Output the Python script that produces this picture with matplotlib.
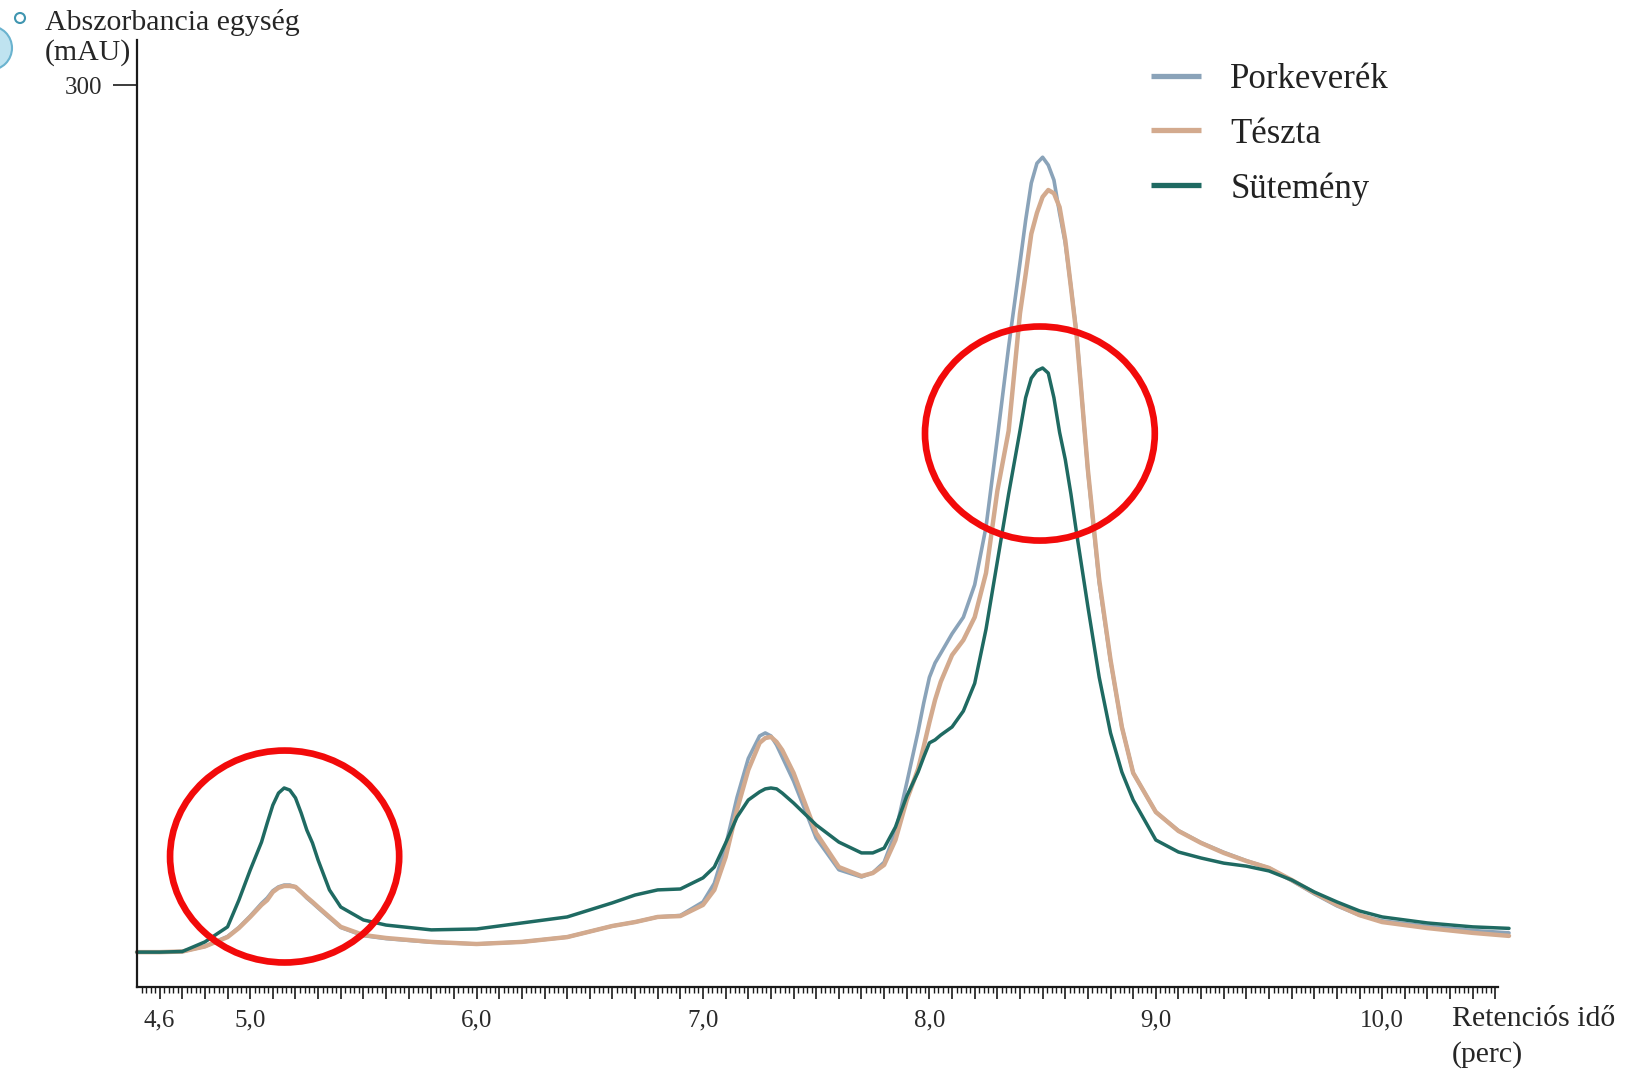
import numpy as np
import matplotlib
matplotlib.use("Agg")
import matplotlib.pyplot as plt
from matplotlib.patches import Ellipse

plt.rcParams['font.family'] = ['Liberation Serif', 'DejaVu Serif']

# ---------------- data (retention time in min, absorbance in mAU) ----------------
time = [4.50, 4.60, 4.70, 4.80, 4.90, 4.95, 5.00, 5.05, 5.075, 5.10,
        5.125, 5.15, 5.175, 5.20, 5.225, 5.25, 5.275, 5.30, 5.35, 5.40,
        5.50, 5.60, 5.80, 6.00, 6.20, 6.40, 6.60, 6.70, 6.80, 6.90,
        7.00, 7.05, 7.10, 7.15, 7.20, 7.25, 7.275, 7.30, 7.325, 7.35,
        7.40, 7.50, 7.60, 7.70, 7.75, 7.80, 7.85, 7.90, 7.95, 7.975,
        8.00, 8.025, 8.05, 8.10, 8.15, 8.20, 8.25, 8.30, 8.35, 8.40,
        8.425, 8.45, 8.475, 8.50, 8.525, 8.55, 8.575, 8.60, 8.625, 8.65,
        8.70, 8.75, 8.80, 8.85, 8.90, 9.00, 9.10, 9.20, 9.30, 9.40,
        9.50, 9.60, 9.70, 9.80, 9.90, 10.00, 10.20, 10.40, 10.56]

porkeverek = [11.6, 11.6, 11.8, 13.5, 16.8, 19.8, 23.6, 27.8, 29.6, 32.0,
              33.3, 33.9, 33.9, 33.3, 31.6, 29.6, 28.0, 26.3, 23.0, 19.8,
              17.1, 16.1, 14.9, 14.3, 15.0, 16.6, 20.3, 21.6, 23.3, 23.8,
              28.3, 34.5, 47.0, 63.0, 76.0, 83.5, 84.5, 83.5, 80.5, 76.5,
              68.5, 49.5, 39.0, 36.6, 38.0, 41.5, 51.5, 67.9, 85.0, 94.5,
              103.0, 107.8, 111.0, 117.5, 123.0, 133.8, 153.0, 182.5, 213.0, 240.8,
              255.0, 267.4, 274.0, 276.0, 273.4, 268.4, 257.4, 247.5, 233.0, 217.5,
              171.5, 134.5, 108.5, 86.5, 71.2, 58.2, 52.0, 48.0, 44.8, 42.0,
              39.6, 35.4, 31.0, 27.0, 23.9, 22.0, 20.2, 18.8, 18.0]

teszta = [11.6, 11.6, 11.8, 13.5, 16.6, 19.6, 23.3, 27.3, 28.9, 31.6,
          33.0, 33.6, 33.6, 33.3, 31.6, 29.9, 28.3, 26.6, 23.3, 20.0,
          17.3, 16.3, 15.0, 14.3, 15.0, 16.6, 20.3, 21.6, 23.3, 23.6,
          27.3, 32.3, 43.2, 58.9, 72.2, 81.2, 82.8, 83.2, 81.5, 78.8,
          71.2, 51.2, 39.9, 36.9, 37.9, 40.6, 48.9, 62.2, 72.5, 80.0,
          88.0, 95.5, 101.5, 110.4, 115.4, 123.0, 137.7, 165.0, 185.0, 224.0,
          237.0, 250.5, 257.5, 262.8, 265.1, 264.0, 259.4, 248.5, 232.8, 216.8,
          172.0, 135.4, 108.8, 86.5, 71.2, 58.2, 51.9, 47.9, 44.6, 41.9,
          39.6, 35.6, 31.3, 27.3, 23.9, 21.6, 19.6, 18.0, 17.0]

sutemeny = [11.6, 11.6, 11.8, 15.0, 20.0, 28.9, 38.9, 48.2, 54.5, 60.5,
            64.5, 66.2, 65.5, 62.9, 57.9, 52.2, 47.9, 42.2, 32.3, 26.6,
            22.3, 20.6, 19.0, 19.3, 21.3, 23.3, 28.0, 30.6, 32.3, 32.6,
            36.3, 39.9, 47.9, 56.5, 62.2, 64.9, 65.9, 66.2, 65.9, 64.5,
            61.2, 53.9, 48.2, 44.6, 44.6, 46.2, 53.2, 63.5, 71.5, 76.5,
            81.2, 82.2, 83.8, 86.5, 91.8, 101.0, 119.0, 141.5, 164.0, 185.0,
            196.0, 202.5, 205.0, 205.9, 204.2, 196.0, 184.5, 175.5, 164.0, 151.0,
            126.5, 103.0, 84.5, 71.5, 62.2, 48.9, 44.9, 42.9, 41.2, 40.2,
            38.6, 35.6, 31.6, 28.3, 25.3, 23.3, 21.3, 20.0, 19.5]

series_names = ["Porkeverék", "Tészta", "Sütemény"]
series_colors = ["#8aa3b9", "#d3aa8e", "#1f6a62"]
series_widths = [2.6, 3.2, 2.5]

xtick_values = [4.6, 5.0, 6.0, 7.0, 8.0, 9.0, 10.0]
xtick_labels = ["4,6", "5,0", "6,0", "7,0", "8,0", "9,0", "10,0"]
ytick_values = [300]
ytick_labels = ["300"]

# ---------------- figure ----------------
W, H = 1634, 1073
fig = plt.figure(figsize=(W / 100, H / 100), dpi=100)
fig.patch.set_facecolor("white")

def fx(px):
    return px / W

def fy(py):
    return 1 - py / H

ax = fig.add_axes([fx(137), fy(987), (1509 - 137) / W, (987 - 40) / H])
ax.set_xlim(4.5, 10.56)
ax.set_ylim(0, 315)

for name, vals, col, lw in zip(series_names, [porkeverek, teszta, sutemeny],
                               series_colors, series_widths):
    ax.plot(time, vals, color=col, lw=lw, label=name, solid_capstyle="round",
            solid_joinstyle="round", clip_on=False)

# red highlight circles
ax.add_patch(Ellipse((5.152, 43.4), 1.012, 70.5, fill=False, ec="#f20a0a", lw=4.8,
                     zorder=6, clip_on=False))
ax.add_patch(Ellipse((8.488, 184.1), 1.015, 71.2, fill=False, ec="#f20a0a", lw=4.8,
                     zorder=6, clip_on=False))

# spines
for s in ["top", "right"]:
    ax.spines[s].set_visible(False)
for s in ["left", "bottom"]:
    ax.spines[s].set_linewidth(1.6)
    ax.spines[s].set_color("#1a1a1a")
ax.spines["bottom"].set_bounds(4.5, 10.51)

# x ticks: long every 0.1, short every 0.02
major = np.round(np.arange(4.6, 10.501, 0.1), 2)
minor = np.round(np.arange(4.52, 10.501, 0.02), 2)
minor = [m for m in minor if not np.any(np.isclose(m, major))]
ax.set_xticks(major)
ax.set_xticklabels([xtick_labels[xtick_values.index(v)] if v in xtick_values else ""
                    for v in [float(m) for m in major]])
ax.set_xticks(minor, minor=True)
ax.tick_params(axis="x", which="major", length=8.5, width=1.2, color="#1a1a1a",
               pad=8, labelsize=18, labelcolor="#2a2a2a")
ax.tick_params(axis="x", which="minor", length=4, width=1.0, color="#1a1a1a")

ax.set_yticks(ytick_values)
ax.set_yticklabels(ytick_labels)
ax.tick_params(axis="y", which="major", length=17, width=1.2, color="#1a1a1a",
               pad=8, labelsize=18, labelcolor="#2a2a2a")

# axis titles
tkw = dict(fontsize=21.5, color="#262626", ha="left", va="center")
fig.text(fx(45), fy(22), "Abszorbancia egység", **tkw)
fig.text(fx(45), fy(53), "(mAU)", **tkw)
fig.text(fx(1452), fy(1019), "Retenciós idő", **tkw)
fig.text(fx(1452), fy(1055), "(perc)", **tkw)

# legend
leg = ax.legend(loc="upper left", bbox_to_anchor=(fx(1151), fy(63)),
                bbox_transform=fig.transFigure, frameon=False, fontsize=25,
                handlelength=1.44, handletextpad=0.84, labelspacing=0.62,
                borderpad=0, borderaxespad=0)
for line in leg.get_lines():
    line.set_linewidth(3.8)
    line.set_solid_capstyle("butt")
for t in leg.get_texts():
    t.set_color("#222222")

# slide decorations (top-left)
fig.add_artist(Ellipse((fx(20), fy(18)), 10 / W, 10 / H, transform=fig.transFigure,
                       fill=False, ec="#3f95b0", lw=1.5))
fig.add_artist(Ellipse((fx(-10), fy(48)), 44 / W, 44 / H, transform=fig.transFigure,
                       fc="#bfe3f0", ec="#6ab3cf", lw=1.5))

fig.savefig("out.png", dpi=100, facecolor="white")
